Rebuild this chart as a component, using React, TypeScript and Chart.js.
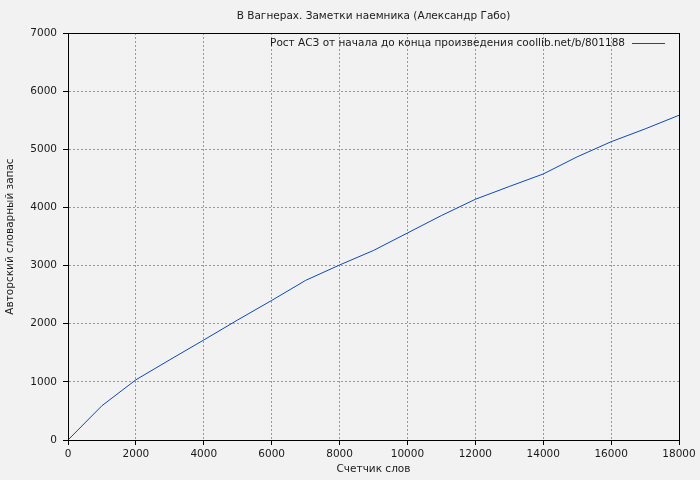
import React, { useEffect, useRef } from "react";
import { Chart, registerables } from "chart.js";

Chart.register(...registerables);

const TITLE = "В Вагнерах. Заметки наемника (Александр Габо)";
const X_TITLE = "Счетчик слов";
const Y_TITLE = "Авторский словарный запас";
const LEGEND = "Рост АСЗ от начала до конца произведения coollib.net/b/801188";

const words = [0, 1000, 2000, 3000, 4000, 5000, 6000, 7000, 8000, 9000, 10000, 11000, 12000, 13000, 14000, 15000, 16000, 17000, 18000];
const vocab = [0, 590, 1035, 1380, 1720, 2065, 2400, 2745, 3010, 3260, 3560, 3860, 4140, 4360, 4575, 4870, 5130, 5350, 5585];

const FONT = "DejaVu Sans";
const FS = 10.5;
const LINE_COLOR = "#1048b8";
const BG = "#f2f2f2";
const TEXT = "#1a1a1a";

const decor = {
  id: "decor",
  beforeDraw(chart: any) {
    const { ctx, width, height } = chart;
    ctx.save();
    ctx.fillStyle = BG;
    ctx.fillRect(0, 0, width, height);
    ctx.restore();
  },
  afterDraw(chart: any) {
    const { ctx, chartArea: a } = chart;
    ctx.save();
    ctx.strokeStyle = "#000";
    ctx.lineWidth = 1;
    ctx.setLineDash([]);
    ctx.strokeRect(Math.round(a.left) + 0.5, Math.round(a.top) + 0.5, Math.round(a.right - a.left), Math.round(a.bottom - a.top));
    ctx.fillStyle = TEXT;
    ctx.font = `${FS}px "${FONT}"`;
    ctx.textAlign = "center";
    ctx.textBaseline = "middle";
    const cx = (a.left + a.right) / 2;
    ctx.fillText(TITLE, cx, 16);
    ctx.fillText(X_TITLE, cx, 469);
    ctx.save();
    ctx.translate(10, (a.top + a.bottom) / 2);
    ctx.rotate(-Math.PI / 2);
    ctx.fillText(Y_TITLE, 0, 0);
    ctx.restore();
    ctx.textAlign = "right";
    ctx.fillText(LEGEND, 625, 43);
    ctx.strokeStyle = LINE_COLOR;
    ctx.beginPath();
    ctx.moveTo(632, 43.5);
    ctx.lineTo(665, 43.5);
    ctx.stroke();
    ctx.restore();
  },
};

const plain = (v: any) => String(v);

export default function App() {
  const ref = useRef<HTMLCanvasElement>(null);
  useEffect(() => {
    document.body.style.margin = "0";
    const chart = new Chart(ref.current!, {
      type: "line",
      data: {
        datasets: [
          {
            data: words.map((w, i) => ({ x: w, y: vocab[i] })),
            borderColor: LINE_COLOR,
            borderWidth: 1,
            pointRadius: 0,
            tension: 0,
            fill: false,
          },
        ],
      },
      options: {
        animation: false,
        responsive: false,
        layout: { padding: { left: 0, right: 21, top: 33, bottom: 0 } },
        plugins: { legend: { display: false }, title: { display: false }, tooltip: { enabled: false } },
        scales: {
          x: {
            type: "linear",
            min: 0,
            max: 18000,
            afterFit: (s: any) => { s.height = 40; },
            ticks: { stepSize: 2000, color: TEXT, font: { family: FONT, size: FS }, padding: 3, maxRotation: 0, callback: plain },
            grid: { color: "#999", tickLength: 5, tickColor: "#000", tickBorderDash: [] } as any,
            border: { color: "#000", width: 1, dash: [2, 2] },
          } as any,
          y: {
            type: "linear",
            min: 0,
            max: 7000,
            afterFit: (s: any) => { s.width = 68; },
            ticks: { stepSize: 1000, color: TEXT, font: { family: FONT, size: FS }, padding: 6, callback: plain },
            grid: { color: "#999", tickLength: 5, tickColor: "#000", tickBorderDash: [] } as any,
            border: { color: "#000", width: 1, dash: [2, 2] },
          } as any,
        },
      },
      plugins: [decor],
    });
    return () => chart.destroy();
  }, []);
  return (
    <div style={{ position: "absolute", left: 0, top: 0, width: 700, height: 480 }}>
      <canvas ref={ref} width={700} height={480} />
    </div>
  );
}
